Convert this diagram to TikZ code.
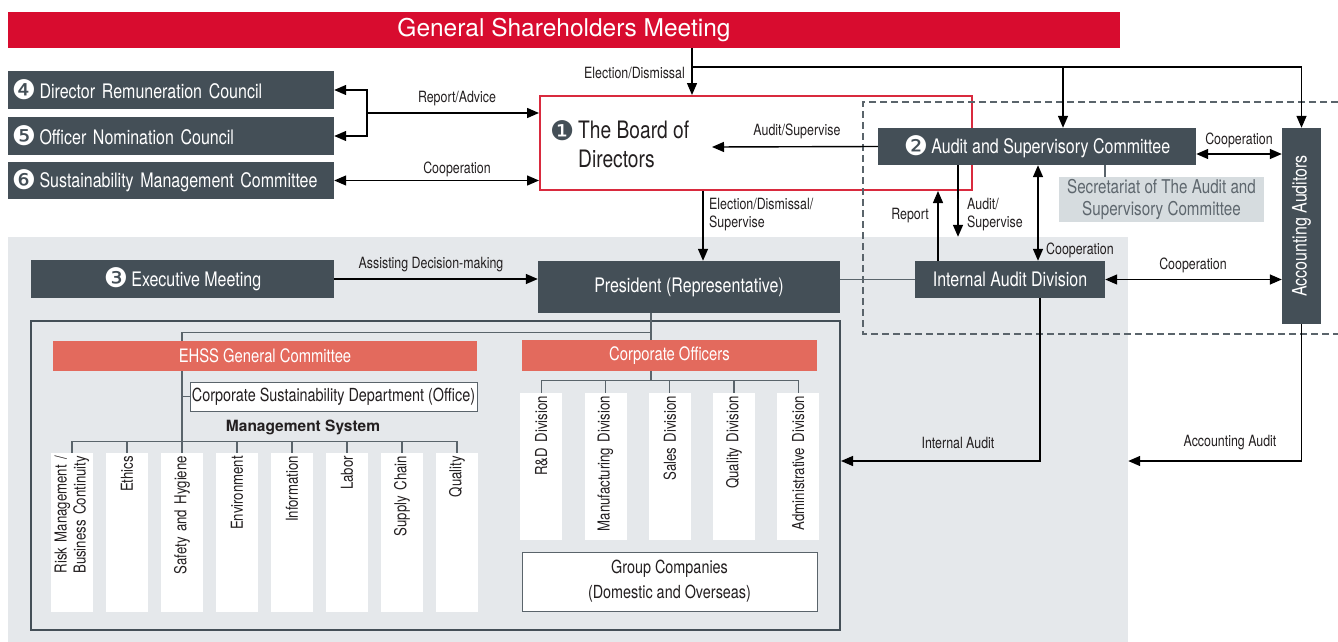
\documentclass[tikz,border=0pt]{standalone}
\usepackage{fontspec}
\usepackage{graphicx}
\setmainfont{TeX Gyre Heros}[FakeStretch=0.8]
\newfontfamily\plainheros{TeX Gyre Heros}
\newfontfamily\circfont{DejaVu Sans}
\usetikzlibrary{arrows.meta,positioning}
\definecolor{slate}{HTML}{444F57}
\definecolor{titlered}{HTML}{D80C2F}
\definecolor{bodred}{HTML}{D92A3E}
\definecolor{salm}{HTML}{E36A5D}
\definecolor{zonegray}{HTML}{E5E8EB}
\definecolor{secgray}{HTML}{D6DCDF}
\definecolor{sectext}{HTML}{5E676E}
\definecolor{linkc}{HTML}{5A646B}
\definecolor{ink}{HTML}{231F20}
\newcommand{\titlef}{\plainheros\fontsize{24.5}{28}\selectfont}
\newcommand{\boxf}{\fontsize{20}{23}\selectfont}
\newcommand{\bodf}{\fontsize{24}{29}\selectfont}
\newcommand{\lblf}{\fontsize{15.5}{18}\selectfont}
\newcommand{\salf}{\fontsize{18.5}{21}\selectfont}
\newcommand{\vertf}{\fontsize{16.5}{19}\selectfont}
\newcommand{\cnum}[1]{\raisebox{-1.5pt}{\circfont\fontsize{27}{27}\selectfont #1}}

\begin{document}
\begin{tikzpicture}[x=1pt,y=-1pt,>={Triangle[length=12pt,width=10pt]},
  arr/.style={->,line width=1.4pt,black},
  arr2/.style={<->,line width=1.4pt,black},
  link/.style={line width=1.3pt,linkc},
  lbl/.style={font=\lblf,text=ink,inner sep=0pt},
  dark/.style={fill=slate,text=white,font=\boxf,inner sep=0pt},
  salmon/.style={fill=salm,text=white,font=\salf,inner sep=0pt},
  plainbox/.style={fill=white,draw=linkc,line width=1pt,text=ink,inner sep=0pt},
  mgmt/.style={fill=white,rotate=90,minimum width=159pt,minimum height=42pt,
               text width=153pt,align=right,inner xsep=3pt,inner ysep=0pt,
               font=\vertf,text=ink},
  divn/.style={mgmt,minimum width=147pt,text width=141pt}]
\useasboundingbox (0,0) rectangle (1338,642);

% executive area and group frame
\node[fill=zonegray,minimum width=1120pt,minimum height=405pt,inner sep=0] (zone) at (568,439.5) {};
\node[draw=slate,line width=2pt,minimum width=809pt,minimum height=309pt,inner sep=0] (grp) at (435.5,475.5) {};

\node[fill=titlered,text=white,font=\titlef,minimum width=1112pt,minimum height=36pt,inner sep=0]
  (gsm) at (564,30) {General Shareholders Meeting};

\node[draw=bodred,line width=2pt,fill=white,minimum width=432pt,minimum height=94pt,inner sep=0]
  (bod) at (756,143) {};
\node[font=\bodf,text=ink,align=left,anchor=west,inner sep=0] (bodtxt) at (578,144)
  {\llap{\textcolor{slate}{\cnum{❶}}\,}The Board of\\Directors};

% audit and supervisory committee area
\draw[dashed,line width=1.3pt,linkc,dash pattern=on 7pt off 4pt]
  (1338,102) -- (863,102) -- (863,334) -- (1338,334);

\node[dark,minimum height=38pt,text width=318pt,align=left,inner xsep=4pt] (drc) at (171,90)
  {\cnum{❹}\,Director Remuneration Council};
\node[dark,minimum height=38pt,text width=318pt,align=left,inner xsep=4pt] (onc) at (171,136)
  {\cnum{❺}\,Officer Nomination Council};
\node[dark,minimum height=37pt,text width=318pt,align=left,inner xsep=4pt] (smc) at (171,180.5)
  {\cnum{❻}\,Sustainability Management Committee};

\node[dark,minimum width=318pt,minimum height=37pt] (asc) at (1037,146.5)
  {\cnum{❷}\,Audit and Supervisory Committee};
\node[fill=secgray,text=sectext,font=\fontsize{19}{22}\selectfont,align=center,
      minimum width=205pt,minimum height=45pt,inner sep=0] (sec) at (1161.5,199.5)
  {Secretariat of The Audit and\\Supervisory Committee};
\node[dark,minimum width=39pt,minimum height=196pt] (aa) at (1301.5,226)
  {\rotatebox{90}{Accounting Auditors}};

\node[dark,minimum width=303pt,minimum height=38pt] (exm) at (182.5,279)
  {\cnum{❸}\,Executive Meeting};
\node[dark,minimum width=302pt,minimum height=52pt] (pres) at (689,287)
  {President (Representative)};
\node[dark,minimum width=190pt,minimum height=37pt] (iad) at (1010,279.5)
  {Internal Audit Division};

\node[salmon,minimum width=424pt,minimum height=30pt] (ehss) at (265,356) {EHSS General Committee};
\node[salmon,minimum width=295pt,minimum height=31pt] (co) at (669.5,355.5) {Corporate Officers};
\node[plainbox,font=\fontsize{18}{21}\selectfont,minimum width=287pt,minimum height=29pt]
  (csd) at (333.5,396.5) {Corporate Sustainability Department (Office)};
\node[font=\plainheros\bfseries\fontsize{15.5}{18}\selectfont,text=ink,inner sep=0] (msys) at (303,427)
  {Management System};

\foreach \i/\lab in {1/{Risk Management /\\Business Continuity},2/Ethics,3/Safety and Hygiene,
                     4/Environment,5/Information,6/Labor,7/Supply Chain,8/Quality}
  \node[mgmt] (ms\i) at (17+55*\i,532.5) {\lab};
\foreach \i/\lab in {1/R\&D Division,2/Manufacturing Division,3/Sales Division,
                     4/Quality Division,5/Administrative Division}
  \node[divn] (dv\i) at (477+64.25*\i,466.5) {\lab};

\node[plainbox,font=\fontsize{18}{25}\selectfont,align=center,minimum width=295pt,minimum height=59pt]
  (gc) at (669.5,581.5) {Group Companies\\(Domestic and Overseas)};

% tree lines
\draw[link] ([xshift=-38pt]pres.south) -- ([xshift=-18.5pt]co.north);
\draw[link] ([xshift=-38pt,yshift=-19pt]pres.south) -| ([xshift=-83pt]ehss.north);
\draw[link] ([xshift=-83pt]ehss.south) -- (ms3.east);
\draw[link] (csd.west) -- (csd.west -| ms3.east);
\draw[link] (ms1.east) -- ++(0,-11) -| (ms8.east);
\foreach \i in {2,...,7} \draw[link] (ms\i.east) -- ++(0,-11);
\draw[link] ([xshift=-18.5pt]co.south) -- ++(0,10);
\draw[link] (dv1.east) -- ++(0,-12) -| (dv5.east);
\foreach \i in {2,3,4} \draw[link] (dv\i.east) -- ++(0,-12);
\draw[link] ([xshift=-56.5pt]sec.north) -- ++(0,-12);
\draw[link] (iad.west -| pres.east) -- (iad.west);

% election and reporting lines
\draw[arr] ([xshift=128pt]gsm.south) -- ([xshift=-64pt]bod.north);
\draw[arr] ([xshift=128pt,yshift=-19pt]gsm.south) -| (aa.north);
\draw[arr] ([xshift=26pt,yshift=61pt]asc.north) -- ([xshift=26pt]asc.north);
\coordinate (ra) at (367,113);
\draw[arr] (ra) |- (drc.east);
\draw[arr] (ra) |- (onc.east);
\draw[arr] (ra) -- (ra -| bod.west);
\draw[arr2] (smc.east) -- (smc.east -| bod.west);
\coordinate (bodin) at (712,147);
\draw[arr] (asc.west) -- (bodin);
\coordinate (cA) at ([yshift=-7.5pt]asc.east);
\draw[arr2] (cA) -- (cA -| aa.west);
\draw[arr] ([xshift=-53pt]bod.south) -- ([xshift=14pt]pres.north);
\draw[arr] (exm.east) -- (exm.east -| pres.west);
\draw[arr] ([xshift=-72pt]iad.north) -- ([xshift=-72pt]iad.north |- bod.south);
\draw[arr] ([xshift=-79pt]asc.south) -- ([xshift=-79pt]asc.south |- zone.north);
\draw[arr2] ([xshift=1pt]asc.south) -- ([xshift=28pt]iad.north);
\draw[arr2] (iad.east) -- (iad.east -| aa.west);
\draw[arr] ([xshift=30pt]iad.south) |- ([yshift=14.5pt]grp.east);
\draw[arr] (aa.south) |- ([yshift=-21.5pt]zone.east);

% labels
\node[lbl] (lra) at (457,99) {Report/Advice};
\node[lbl] (lcoop1) at (457,169) {Cooperation};
\node[lbl,anchor=east] (lel) at (685,73) {Election/Dismissal};
\node[lbl] (lau) at (797,131) {Audit/Supervise};
\node[lbl] (lcoop2) at (1239,140) {Cooperation};
\node[lbl,anchor=north west,align=left] (lesup) at (709,198) {Election/Dismissal/\\Supervise};
\node[lbl,anchor=east] (lrep) at (929,216) {Report};
\node[lbl,anchor=west,align=left] (lausup) at (967,215) {Audit/\\Supervise};
\node[lbl,anchor=west] (lcoop3) at (1046,250) {Cooperation};
\node[lbl] (lcoop4) at (1193,265) {Cooperation};
\node[lbl] (lad) at (431,265) {Assisting Decision-making};
\node[lbl] (lia) at (958,443) {Internal Audit};
\node[lbl] (lacc) at (1230,443) {Accounting Audit};
\end{tikzpicture}
\end{document}
